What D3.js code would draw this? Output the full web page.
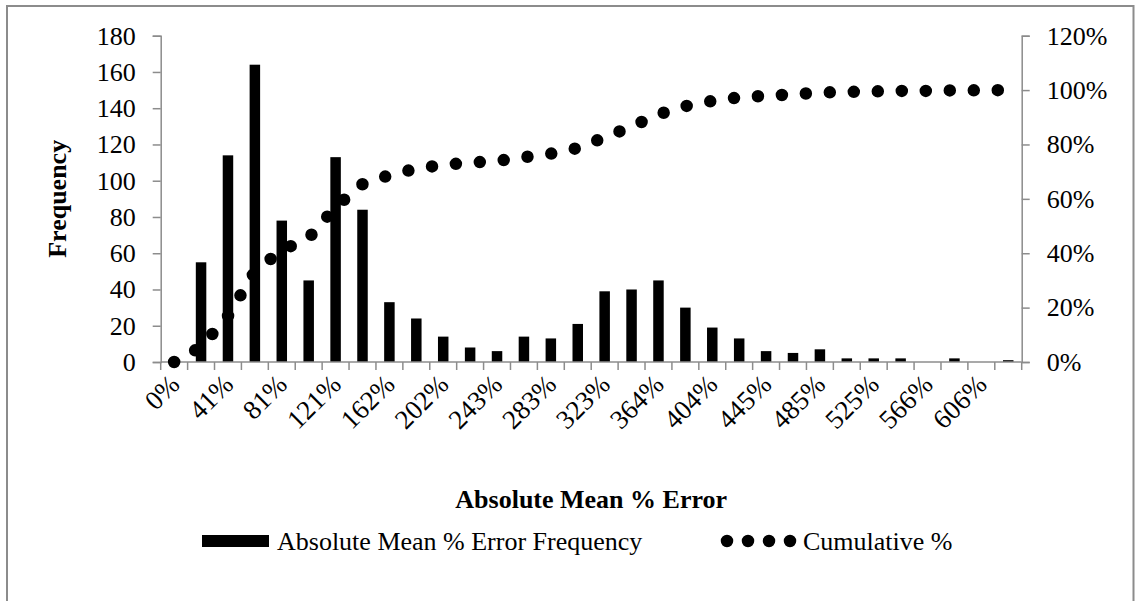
<!DOCTYPE html>
<html>
<head>
<meta charset="utf-8">
<script src="https://cdn.jsdelivr.net/npm/d3@7"></script>
<style>
  html, body { margin: 0; padding: 0; background: #fff; }
  svg { display: block; font-family: "Liberation Serif", "Times New Roman", serif; }
</style>
</head>
<body>
<div id="chart"></div>
<script>
// bins of absolute mean % error (only every other label is shown on the axis)
const categories = ['0%', '20%', '41%', '61%', '81%', '101%', '121%', '141%', '162%', '182%',
  '202%', '222%', '243%', '263%', '283%', '303%', '323%', '343%', '364%', '384%',
  '404%', '424%', '445%', '465%', '485%', '505%', '525%', '545%', '566%', '586%', '606%', '626%'];

// frequency per bin (left axis)
const frequency = [0, 55, 114, 164, 78, 45, 113, 84, 33, 24,
  14, 8, 6, 14, 13, 21, 39, 40, 45, 30,
  19, 13, 6, 5, 7, 2, 2, 2, 0, 2, 0, 1];

// cumulative share (right axis)
const cumulative = [0, 0.055, 0.169, 0.333, 0.411, 0.456, 0.570, 0.654, 0.687, 0.711,
  0.725, 0.733, 0.739, 0.753, 0.766, 0.787, 0.826, 0.866, 0.911, 0.941,
  0.960, 0.973, 0.979, 0.984, 0.991, 0.993, 0.995, 0.997, 0.997, 0.999, 0.999, 1.0];

const leftTicks = [0, 20, 40, 60, 80, 100, 120, 140, 160, 180];
const rightTicks = [0, 0.2, 0.4, 0.6, 0.8, 1.0, 1.2];

(function () {
  const W = 1135, H = 601;
  const plot = { left: 160.7, right: 1021.7, top: 35.7, bottom: 362 };
  const AXIS = '#8c8c8c';
  const FS = 26;

  const svg = d3.select('#chart').append('svg').attr('width', W).attr('height', H);

  // outer frame (bottom edge falls outside the picture)
  svg.append('path').attr('d', `M7,${H}V6H1133.5V${H}`)
    .attr('fill', 'none').attr('stroke', AXIS).attr('stroke-width', 2);

  const x = d3.scaleBand().domain(categories).range([plot.left, plot.right]).padding(0);
  const y = d3.scaleLinear().domain([0, 180]).range([plot.bottom, plot.top]);
  const yR = d3.scaleLinear().domain([0, 1.2]).range([plot.bottom, plot.top]);
  const bw = x.bandwidth();
  const barW = bw * 0.39;

  // bars
  svg.append('g').selectAll('rect').data(frequency).join('rect')
    .attr('x', (d, i) => x(categories[i]) + (bw - barW) / 2)
    .attr('y', d => y(d))
    .attr('width', barW)
    .attr('height', d => y(0) - y(d))
    .attr('fill', '#000');

  // left axis
  const gL = svg.append('g').attr('transform', `translate(${plot.left},0)`)
    .call(d3.axisLeft(y).tickValues(leftTicks).tickSize(8).tickPadding(17));
  // right axis
  const gR = svg.append('g').attr('transform', `translate(${plot.right},0)`)
    .call(d3.axisRight(yR).tickValues(rightTicks).tickSize(8).tickPadding(17)
      .tickFormat(d3.format('.0%')));
  [gL, gR].forEach(g => {
    g.select('.domain').attr('stroke', AXIS).attr('stroke-width', 1.5);
    g.selectAll('.tick line').attr('stroke', AXIS).attr('stroke-width', 1.5);
    g.selectAll('.tick text').attr('fill', '#000')
      .style('font-family', '"Liberation Serif", serif').style('font-size', FS + 'px');
  });

  // x axis: ticks on category boundaries
  const gX = svg.append('g');
  gX.append('line').attr('x1', plot.left).attr('x2', plot.right)
    .attr('y1', plot.bottom).attr('y2', plot.bottom)
    .attr('stroke', AXIS).attr('stroke-width', 1.5);
  const bounds = categories.map(c => x(c)).concat([plot.right]);
  gX.selectAll('line.tk').data(bounds).join('line').attr('class', 'tk')
    .attr('x1', d => d).attr('x2', d => d)
    .attr('y1', plot.bottom).attr('y2', plot.bottom + 8)
    .attr('stroke', AXIS).attr('stroke-width', 1.5);
  gX.selectAll('text').data(categories.filter((c, i) => i % 2 === 0)).join('text')
    .attr('transform', d => `translate(${x(d) + bw / 2 + 7},${plot.bottom + 24}) rotate(-45)`)
    .attr('text-anchor', 'end')
    .style('font-size', '27px')
    .text(d => d);

  // cumulative % as a thick round-dot line
  const line = d3.line()
    .x((d, i) => x(categories[i]) + bw / 2)
    .y(d => yR(d));
  svg.append('path').datum(cumulative).attr('d', line)
    .attr('fill', 'none').attr('stroke', '#000').attr('stroke-width', 12.5)
    .attr('stroke-linecap', 'round').attr('stroke-dasharray', '0 24');

  // axis titles
  svg.append('text').attr('x', (plot.left + plot.right) / 2).attr('y', 508)
    .attr('text-anchor', 'middle').style('font-size', FS + 'px').style('font-weight', 'bold')
    .text('Absolute Mean % Error');
  svg.append('text').attr('transform', `translate(66,${(plot.top + plot.bottom) / 2}) rotate(-90)`)
    .attr('text-anchor', 'middle').style('font-size', FS + 'px').style('font-weight', 'bold')
    .text('Frequency');

  // legend
  const ly = 541;
  const lg = svg.append('g');
  lg.append('rect').attr('x', 202).attr('y', ly - 6).attr('width', 67).attr('height', 12).attr('fill', '#000');
  lg.append('text').attr('x', 277).attr('y', ly + 9).style('font-size', FS + 'px')
    .text('Absolute Mean % Error Frequency');
  lg.append('path').attr('d', `M727,${ly}L795,${ly}`)
    .attr('stroke', '#000').attr('stroke-width', 12.5).attr('stroke-linecap', 'round')
    .attr('stroke-dasharray', '0 21');
  lg.append('text').attr('x', 803).attr('y', ly + 9).style('font-size', FS + 'px')
    .text('Cumulative %');
})();
</script>
</body>
</html>
